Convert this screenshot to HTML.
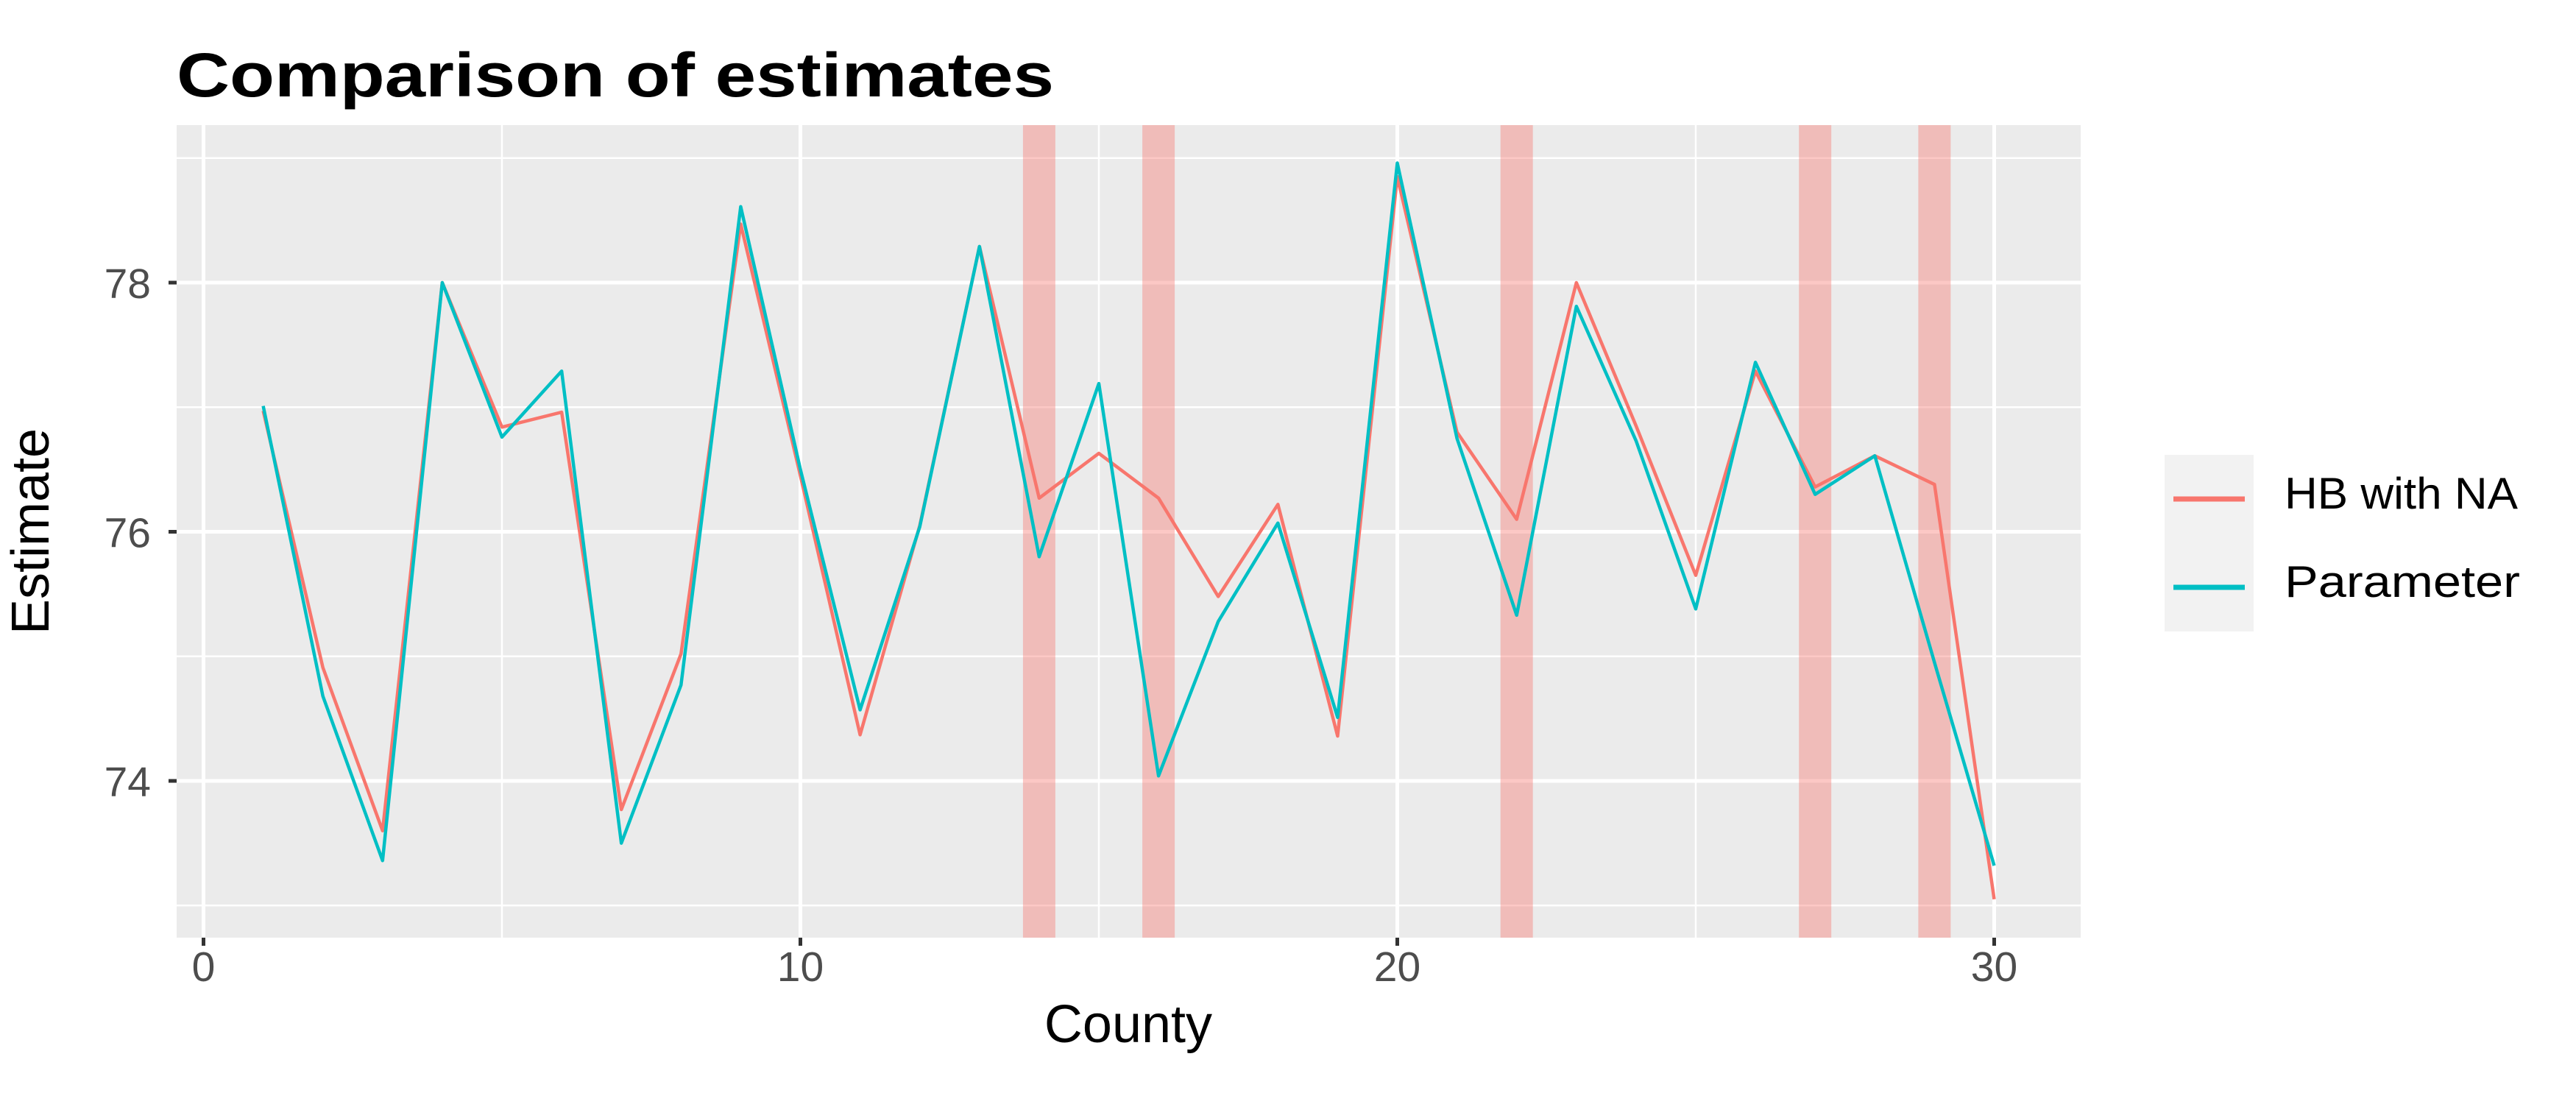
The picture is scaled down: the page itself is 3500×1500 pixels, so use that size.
<!DOCTYPE html>
<html><head><meta charset="utf-8"><style>
html,body{margin:0;padding:0;background:#fff;}
svg{display:block;}
text{font-family:"Liberation Sans",sans-serif;}
</style></head><body>
<svg id="s" width="3500" height="1500" viewBox="0 0 3500 1500" xmlns="http://www.w3.org/2000/svg">
<rect x="0" y="0" width="3500" height="1500" fill="#fff"/>
<rect x="240" y="170" width="2587" height="1104" fill="#EBEBEB"/>
<g id="grid"></g>
<g id="bands"></g>
<g id="lines"></g>
<text x="240" y="131" font-size="84" font-weight="bold" fill="#000" textLength="1192" lengthAdjust="spacingAndGlyphs">Comparison of estimates</text>
<g id="axes"></g>
<text x="1533" y="1416" font-size="72" text-anchor="middle" fill="#000">County</text>
<text transform="translate(66,722) rotate(-90)" font-size="72" text-anchor="middle" fill="#000">Estimate</text>
<rect x="2941" y="618" width="121" height="240" fill="#F2F2F2"/>
<line x1="2953" y1="678" x2="3050" y2="678" stroke="#F8766D" stroke-width="7"/>
<line x1="2953" y1="798" x2="3050" y2="798" stroke="#00BFC4" stroke-width="7"/>
<text x="3104" y="691" font-size="60" fill="#000" textLength="317" lengthAdjust="spacingAndGlyphs">HB with NA</text>
<text x="3104" y="811" font-size="60" fill="#000" textLength="320" lengthAdjust="spacingAndGlyphs">Parameter</text>
</svg>
<script>
var NS="http://www.w3.org/2000/svg";
function X(v){return 240+(v+0.45)*81.1;}
function Y(v){return 384+(78-v)*169.25;}
function el(p,t,a){var e=document.createElementNS(NS,t);for(var k in a)e.setAttribute(k,a[k]);p.appendChild(e);return e;}
var g=document.getElementById('grid');
[73,75,77,79].forEach(function(v){el(g,'line',{x1:240,x2:2827,y1:Y(v),y2:Y(v),stroke:'#fff','stroke-width':2.5});});
[5,15,25].forEach(function(v){el(g,'line',{x1:X(v),x2:X(v),y1:170,y2:1274,stroke:'#fff','stroke-width':2.5});});
[74,76,78].forEach(function(v){el(g,'line',{x1:240,x2:2827,y1:Y(v),y2:Y(v),stroke:'#fff','stroke-width':5});});
[0,10,20,30].forEach(function(v){el(g,'line',{x1:X(v),x2:X(v),y1:170,y2:1274,stroke:'#fff','stroke-width':5});});
var b=document.getElementById('bands');
[14,16,22,27,29].forEach(function(v){el(b,'rect',{x:X(v)-22,y:170,width:44,height:1104,fill:'#F8766D','fill-opacity':0.4});});
var red=[76.97,74.91,73.60,78.0,76.84,76.96,73.77,75.02,78.47,76.45,74.37,76.05,78.29,76.27,76.63,76.27,75.48,76.22,74.36,78.85,76.80,76.10,78.0,76.85,75.65,77.29,76.36,76.61,76.38,73.05];
var cy=[77.01,74.68,73.36,78.0,76.76,77.29,73.50,74.77,78.61,76.5,74.57,76.04,78.29,75.80,77.19,74.04,75.28,76.07,74.51,78.96,76.75,75.33,77.81,76.73,75.38,77.36,76.30,76.61,74.95,73.32];
var L=document.getElementById('lines');
function pl(d,c){el(L,'polyline',{points:d.map(function(v,i){return X(i+1).toFixed(1)+','+Y(v).toFixed(1);}).join(' '),fill:'none',stroke:c,'stroke-width':4.5,'stroke-linejoin':'round'});}
pl(red,'#F8766D');pl(cy,'#00BFC4');
var a=document.getElementById('axes');
[74,76,78].forEach(function(v){el(a,'line',{x1:229,x2:240,y1:Y(v),y2:Y(v),stroke:'#333','stroke-width':5});
var t=el(a,'text',{x:205,y:Y(v)+21,'font-size':57,'text-anchor':'end',fill:'#4D4D4D'});t.textContent=v;});
[0,10,20,30].forEach(function(v){el(a,'line',{x1:X(v),x2:X(v),y1:1274,y2:1285,stroke:'#333','stroke-width':5});
var t=el(a,'text',{x:X(v),y:1333,'font-size':57,'text-anchor':'middle',fill:'#4D4D4D'});t.textContent=v;});
</script>
</body></html>
